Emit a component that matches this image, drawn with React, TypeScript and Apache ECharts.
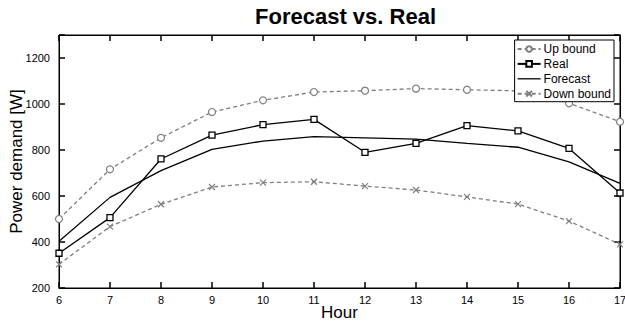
import React, { useEffect, useRef } from "react";
import * as echarts from "echarts";

const hours = [6, 7, 8, 9, 10, 11, 12, 13, 14, 15, 16, 17];
const upBound = [500, 716, 853, 965, 1016, 1052, 1058, 1067, 1062, 1057, 1003, 923];
const real = [351, 506, 761, 865, 910, 933, 790, 829, 906, 883, 807, 613];
const forecast = [403, 594, 710, 803, 839, 858, 853, 847, 829, 812, 748, 655];
const downBound = [303, 467, 564, 639, 658, 662, 643, 626, 596, 565, 491, 390];

const X_MIN = 6;
const X_MAX = 17;
const Y_MIN = 200;
const Y_MAX = 1300;

const FONT = "Liberation Sans, Arial, Helvetica, sans-serif";
const GRAY = "#7f7f7f";

const pair = (ys: number[]) => hours.map((h, i) => [h, ys[i]]);
const axLine = () => ({ show: true, onZero: false, lineStyle: { color: "#000", width: 1 } });
const axTick = () => ({ show: true, inside: true, length: 6, lineStyle: { color: "#000", width: 1.5 } });

export default function App() {
  const ref = useRef<HTMLDivElement>(null);
  useEffect(() => {
    document.body.style.margin = "0";
    const chart = echarts.init(ref.current!, null, { renderer: "svg" });
    chart.setOption({
      animation: false,
      textStyle: { fontFamily: FONT },
      title: {
        text: "Forecast vs. Real",
        left: 340.5,
        top: 0,
        textAlign: "center",
        textStyle: { fontSize: 22, fontWeight: "bold", color: "#000", fontFamily: FONT },
      },
      grid: {
        left: 59,
        right: 5,
        top: 35,
        bottom: 33,
        containLabel: false,
        outerBoundsMode: "none",
        show: true,
        borderColor: "#000",
        borderWidth: 1,
        backgroundColor: "transparent",
      },
      legend: {
        orient: "vertical",
        right: 11,
        top: 40,
        backgroundColor: "#fff",
        borderColor: "#000",
        borderWidth: 1,
        borderRadius: 0,
        padding: [3, 3, 2, 2],
        itemGap: 2.9,
        itemWidth: 23,
        itemHeight: 7,
        textStyle: { fontSize: 12, color: "#000", fontFamily: FONT, padding: [0, 0, 0, -2] },
        data: [
          { name: "Up bound" },
          { name: "Real" },
          { name: "Forecast", icon: "path://M0,0H23V1.3H0Z" },
          { name: "Down bound" },
        ],
      },
      xAxis: [
        {
          type: "value",
          min: X_MIN,
          max: X_MAX,
          interval: 1,
          name: "Hour",
          nameLocation: "middle",
          nameGap: 16,
          nameMoveOverlap: false,
          nameTextStyle: { fontSize: 17, color: "#000", fontFamily: FONT },
          axisLine: axLine(),
          axisTick: axTick(),
          axisLabel: { fontSize: 11, color: "#000", margin: 6, fontFamily: FONT },
          splitLine: { show: false },
        },
        {
          type: "value",
          position: "top",
          min: X_MIN,
          max: X_MAX,
          interval: 1,
          axisLine: axLine(),
          axisTick: axTick(),
          axisLabel: { show: false },
          splitLine: { show: false },
        },
      ],
      yAxis: [
        {
          type: "value",
          min: Y_MIN,
          max: Y_MAX,
          interval: 200,
          name: "Power demand [W]",
          nameLocation: "middle",
          nameGap: 34,
          nameMoveOverlap: false,
          nameTextStyle: { fontSize: 17, color: "#000", fontFamily: FONT },
          axisLine: axLine(),
          axisTick: axTick(),
          axisLabel: {
            fontSize: 11,
            color: "#000",
            margin: 9,
            fontFamily: FONT,
            formatter: (v: number) => (v > 1200 ? "" : String(v)),
          },
          splitLine: { show: false },
        },
        {
          type: "value",
          position: "right",
          min: Y_MIN,
          max: Y_MAX,
          interval: 200,
          axisLine: axLine(),
          axisTick: axTick(),
          axisLabel: { show: false },
          splitLine: { show: false },
        },
      ],
      series: [
        {
          name: "Up bound",
          type: "line",
          data: pair(upBound),
          symbol: "circle",
          symbolSize: 7,
          showAllSymbol: true,
          lineStyle: { color: GRAY, width: 1.3, type: [4, 3] },
          itemStyle: { color: "#fff", borderColor: GRAY, borderWidth: 1.2 },
          z: 2,
        },
        {
          name: "Real",
          type: "line",
          data: pair(real),
          symbol: "rect",
          symbolSize: 6,
          lineStyle: { color: "#000", width: 1.3 },
          itemStyle: { color: "#fff", borderColor: "#000", borderWidth: 1.3 },
          z: 4,
        },
        {
          name: "Forecast",
          type: "line",
          data: pair(forecast),
          symbol: "none",
          lineStyle: { color: "#000", width: 1.3 },
          itemStyle: { color: "#000" },
          z: 3,
        },
        {
          name: "Down bound",
          type: "line",
          data: pair(downBound),
          symbol: "path://M0,0L10,10M10,0L0,10",
          symbolSize: 6,
          lineStyle: { color: GRAY, width: 1.3, type: [4, 3] },
          itemStyle: { color: "none", borderColor: GRAY, borderWidth: 1.2 },
          z: 2,
        },
      ],
    });
    return () => chart.dispose();
  }, []);
  return <div ref={ref} style={{ width: 625, height: 321 }} />;
}
